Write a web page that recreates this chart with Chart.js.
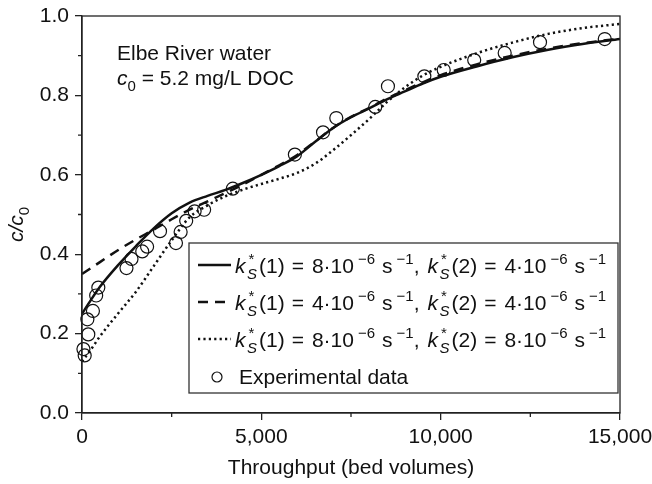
<!DOCTYPE html>
<html>
<head>
<meta charset="utf-8">
<script src="https://cdn.jsdelivr.net/npm/chart.js@4.4.0/dist/chart.umd.min.js"></script>
<style>
  body { margin: 0; background: #fff; }
</style>
</head>
<body>
<canvas id="breakthrough" width="652" height="484"></canvas>
<script>
//-----------------Data
const modelX = [0, 250, 500, 1000, 1500, 2000, 2500, 3000, 3500, 4000, 4500, 5000, 5500, 6000, 6500, 7000, 7500, 8000, 8500, 9000, 9500, 10000, 11000, 12000, 13000, 14000, 15000]
// k*(1)=8e-6, k*(2)=4e-6
const solidY = [0.25, 0.285, 0.318, 0.372, 0.42, 0.465, 0.503, 0.53, 0.547, 0.562, 0.58, 0.60, 0.622, 0.647, 0.683, 0.718, 0.745, 0.767, 0.79, 0.81, 0.83, 0.847, 0.873, 0.896, 0.915, 0.93, 0.942]
// k*(1)=4e-6, k*(2)=4e-6
const dashY = [0.35, 0.365, 0.38, 0.41, 0.437, 0.462, 0.488, 0.512, 0.533, 0.554, 0.576, 0.60, 0.624, 0.65, 0.684, 0.718, 0.746, 0.768, 0.792, 0.813, 0.833, 0.851, 0.878, 0.90, 0.918, 0.932, 0.943]
// k*(1)=8e-6, k*(2)=8e-6
const dotY = [0.13, 0.16, 0.193, 0.25, 0.305, 0.37, 0.435, 0.493, 0.523, 0.546, 0.563, 0.577, 0.59, 0.605, 0.628, 0.662, 0.70, 0.74, 0.783, 0.82, 0.85, 0.872, 0.906, 0.933, 0.955, 0.97, 0.98]

const expX = [40, 75, 175, 150, 305, 395, 455, 1240, 1380, 1680, 1815, 2175, 2620, 2750, 2905, 3140, 3405, 4205, 5935, 6720, 7090, 8175, 8530, 9545, 10085, 10935, 11785, 12770, 14575]
const expY = [0.161, 0.145, 0.198, 0.236, 0.257, 0.296, 0.316, 0.365, 0.388, 0.407, 0.419, 0.458, 0.428, 0.456, 0.484, 0.508, 0.512, 0.565, 0.651, 0.707, 0.743, 0.771, 0.823, 0.848, 0.864, 0.889, 0.907, 0.934, 0.942]

const xTicks = [0, 5000, 10000, 15000]
const xMinor = [2500, 7500, 12500]
const yTicks = [0, 0.2, 0.4, 0.6, 0.8, 1.0]
const yMinor = [0.1, 0.3, 0.5, 0.7, 0.9]

const rateConstants = [[8, 4], [4, 4], [8, 8]]   // k*S(1), k*S(2) in 1e-6 s^-1
const expLabel = 'Experimental data'
const noteLine1 = 'Elbe River water'
const noteLine2 = ' = 5.2 mg/L DOC'
const xTitle = 'Throughput (bed volumes)'

const FONT = '"Liberation Sans", Arial, Helvetica, sans-serif'
const INK = '#111'

//-----------------rich text (italic / sub / sup)
function drawRich(ctx, parts, x, y, size, small){
  small = small || Math.round(size * 0.7)
  let cx = x
  for (const p of parts){
    if (p.stack){          // superscript over subscript, e.g. k*S
      ctx.font = `${small}px ${FONT}`
      const w1 = ctx.measureText(p.stack[0]).width
      ctx.fillText(p.stack[0], cx + 1.5, y - size * 0.42)
      ctx.font = `italic ${small}px ${FONT}`
      const w2 = ctx.measureText(p.stack[1]).width
      ctx.fillText(p.stack[1], cx, y + size * 0.27)
      cx += Math.max(w1, w2) + (p.gap || 0)
      continue
    }
    const fs = (p.sup || p.sub) ? small : size
    ctx.font = `${p.i ? 'italic ' : ''}${fs}px ${FONT}`
    const dy = p.sup ? -size * 0.42 : (p.sub ? size * 0.27 : 0)
    ctx.fillText(p.t, cx, y + dy)
    cx += ctx.measureText(p.t).width + (p.gap || 0)
  }
  return cx
}

function rateParts(a, b){
  const half = n => [
    {t: 'k', i: true, gap: 1.5}, {stack: ['*', 'S'], gap: 2}, {t: '(' + n + ')', gap: 7}, {t: '=', gap: 8},
    {t: (n === 1 ? a : b) + '\u00b710', gap: 4}, {t: '\u22126', sup: true, gap: 7},
    {t: 's', gap: 4}, {t: '\u22121', sup: true}
  ]
  return [...half(1), {t: ',', gap: 8}, ...half(2)]
}

//-----------------decorations: frame, minor ticks, y title, note, legend
const decor = {
  id: 'decor',
  afterDraw(chart){
    const {ctx, chartArea: a, scales: {x, y}} = chart
    ctx.save()
    ctx.strokeStyle = '#222'
    ctx.lineWidth = 1.3
    ctx.strokeRect(a.left, a.top, a.right - a.left, a.bottom - a.top)

    // minor ticks (outward)
    ctx.beginPath()
    xMinor.forEach(v => { const px = x.getPixelForValue(v); ctx.moveTo(px, a.bottom); ctx.lineTo(px, a.bottom + 4) })
    yMinor.forEach(v => { const py = y.getPixelForValue(v); ctx.moveTo(a.left, py); ctx.lineTo(a.left - 4, py) })
    ctx.stroke()

    ctx.fillStyle = INK
    ctx.textBaseline = 'alphabetic'
    ctx.textAlign = 'left'

    // y title c/c0 rotated
    ctx.save()
    ctx.translate(23, 220)
    ctx.rotate(-Math.PI / 2)
    drawRich(ctx, [{t: 'c/c', i: true}, {t: '0', sub: true}], -22, 0, 21, 15)
    ctx.restore()

    // note top-left
    ctx.font = `21px ${FONT}`
    ctx.fillText(noteLine1, a.left + 35, a.top + 44)
    drawRich(ctx, [{t: 'c', i: true}, {t: '0', sub: true}, {t: noteLine2}], a.left + 35, a.top + 69, 21, 15)

    // legend box
    const lx = 189, ly = 243, lw = 429, lh = 150
    ctx.strokeStyle = '#333'
    ctx.lineWidth = 1.3
    ctx.strokeRect(lx, ly, lw, lh)
    const rows = [273, 310, 347, 384]
    const styles = [[], [10, 7], [2.2, 3.2]]
    rateConstants.forEach((rc, i) => {
      ctx.strokeStyle = INK
      ctx.lineWidth = 2.4
      ctx.setLineDash(styles[i])
      ctx.beginPath()
      ctx.moveTo(lx + 9, rows[i] - 8)
      ctx.lineTo(lx + 42, rows[i] - 8)
      ctx.stroke()
      ctx.setLineDash([])
      drawRich(ctx, rateParts(rc[0], rc[1]), lx + 46, rows[i], 21, 15)
    })
    ctx.lineWidth = 1.2
    ctx.beginPath()
    ctx.arc(lx + 28, rows[3] - 7, 5, 0, Math.PI * 2)
    ctx.stroke()
    ctx.font = `21px ${FONT}`
    ctx.fillText(expLabel, lx + 50, rows[3])
    ctx.restore()
  }
}

function curve(ys, dash){
  return {
    data: modelX.map((v, i) => ({x: v, y: ys[i]})),
    showLine: true,
    borderColor: INK,
    borderWidth: 2.5,
    borderDash: dash,
    pointRadius: 0,
    cubicInterpolationMode: 'monotone',
    fill: false
  }
}

const ctx = document.getElementById('breakthrough').getContext('2d')
const chart = new Chart(ctx, {
  type: 'scatter',
  data: {
    datasets: [
      curve(solidY, []),
      curve(dashY, [10, 7]),
      curve(dotY, [2.2, 3.2]),
      {
        data: expX.map((v, i) => ({x: v, y: expY[i]})),
        showLine: false,
        pointStyle: 'circle',
        pointRadius: 6.5,
        borderWidth: 1.2,
        borderColor: INK,
        backgroundColor: 'rgba(0,0,0,0)',
        clip: false
      }
    ]
  },
  options: {
    responsive: false,
    animation: false,
    layout: {padding: {top: 16, right: 32, left: 0, bottom: 0}},
    plugins: {legend: {display: false}, tooltip: {enabled: false}},
    scales: {
      x: {
        type: 'linear', min: 0, max: 15000,
        afterBuildTicks: s => { s.ticks = xTicks.map(v => ({value: v})) },
        afterFit: s => { s.height = 71; s.paddingLeft = 0; s.paddingRight = 0 },
        ticks: {color: INK, font: {family: FONT, size: 21}, padding: 5, maxRotation: 0,
                callback: v => v.toLocaleString('en-US')},
        grid: {drawOnChartArea: false, tickLength: 7, color: '#222', lineWidth: 1.3},
        border: {color: '#222', width: 1.3},
        title: {display: true, text: xTitle, color: INK, font: {family: FONT, size: 21}, padding: {top: 0, bottom: 3}}
      },
      y: {
        min: 0, max: 1,
        afterBuildTicks: s => { s.ticks = yTicks.map(v => ({value: v})) },
        afterFit: s => { s.width = 82; s.paddingTop = 0; s.paddingBottom = 0 },
        ticks: {color: INK, font: {family: FONT, size: 21}, padding: 6, callback: v => v.toFixed(1)},
        grid: {drawOnChartArea: false, tickLength: 7, color: '#222', lineWidth: 1.3},
        border: {color: '#222', width: 1.3}
      }
    }
  },
  plugins: [decor]
})
</script>
</body>
</html>
